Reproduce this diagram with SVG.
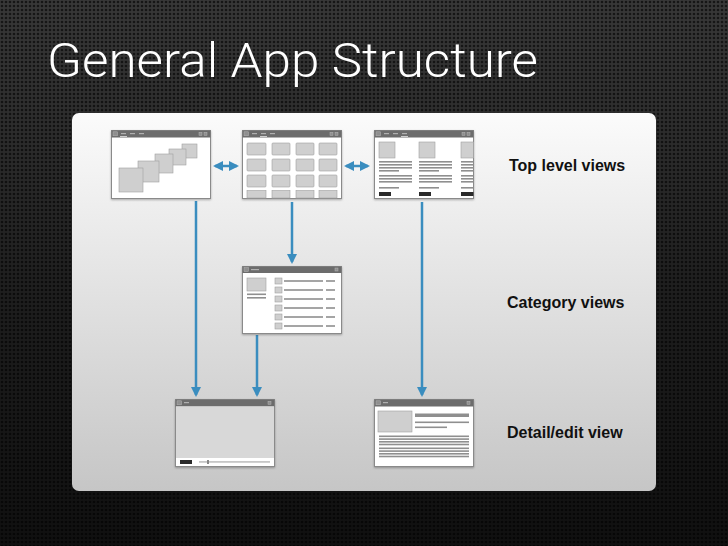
<svg xmlns="http://www.w3.org/2000/svg" width="728" height="546" viewBox="0 0 728 546">
<defs>
<linearGradient id="bg" x1="0" y1="0" x2="0" y2="1">
<stop offset="0" stop-color="#383838"/>
<stop offset="0.55" stop-color="#1e1e1e"/>
<stop offset="1" stop-color="#101010"/>
</linearGradient>
<pattern id="mesh" width="4" height="4" patternUnits="userSpaceOnUse">
<circle cx="2" cy="2" r="1.3" fill="#000" fill-opacity="0.6"/>
</pattern>
<linearGradient id="panel" x1="0" y1="0" x2="0" y2="1">
<stop offset="0" stop-color="#fbfbfb"/>
<stop offset="1" stop-color="#c6c6c6"/>
</linearGradient>
<filter id="sh" x="-10%" y="-10%" width="120%" height="130%">
<feDropShadow dx="0" dy="1" stdDeviation="1" flood-color="#000" flood-opacity="0.3"/>
</filter>
<marker id="ah" viewBox="0 0 10 10" refX="8" refY="5" markerWidth="4" markerHeight="4" orient="auto-start-reverse" markerUnits="strokeWidth">
<path d="M0,0 L10,5 L0,10 z" fill="#3a8dbf"/>
</marker>
</defs>
<style>
.win{fill:#fff;stroke:#8a8a8a;stroke-width:1}
.tb{fill:#6c6c6c}
.ic{fill:#8e8e8e;stroke:#b5b5b5;stroke-width:0.5}
.tab{fill:#b0b0b0}
.act{fill:#e8e8e8}
.bx{fill:#cfcfcf;stroke:#a0a0a0;stroke-width:0.6}
.gl{fill:#8f8f8f}
.dk{fill:#2a2a2a}
.con{fill:none;stroke:#3a8dbf;stroke-width:2.5}
.lbl{font-family:"Liberation Sans",Arial,sans-serif;font-weight:bold;font-size:16px;fill:#111}
</style>
<rect width="728" height="546" fill="url(#bg)"/>
<rect width="728" height="546" fill="url(#mesh)"/>
<text x="47" y="77" font-family="Roboto,'Liberation Sans',Arial,sans-serif" font-weight="300" font-size="48" fill="#fff" textLength="491" lengthAdjust="spacingAndGlyphs">General App Structure</text>
<rect id="panel-bg" x="72" y="113" width="584" height="378" rx="7" fill="url(#panel)"/>

<g id="connectors">
<line class="con" x1="215" y1="166" x2="237" y2="166" marker-start="url(#ah)" marker-end="url(#ah)"/>
<line class="con" x1="346" y1="166" x2="368" y2="166" marker-start="url(#ah)" marker-end="url(#ah)"/>
<line class="con" x1="196" y1="201" x2="196" y2="395" marker-end="url(#ah)"/>
<line class="con" x1="292" y1="202" x2="292" y2="262" marker-end="url(#ah)"/>
<line class="con" x1="422" y1="202" x2="422" y2="395" marker-end="url(#ah)"/>
<line class="con" x1="257" y1="335" x2="257" y2="395" marker-end="url(#ah)"/>
</g>

<g id="top-view-1" filter="url(#sh)">
<rect class="win" x="111.5" y="130.5" width="99" height="68"/>
<rect class="tb" x="111.5" y="130.5" width="99" height="7"/>
<rect class="ic" x="113" y="131.8" width="4.5" height="4"/>
<rect class="tab" x="121" y="133" width="5" height="1.2"/><rect class="act" x="120" y="136" width="7" height="0.8"/>
<rect class="tab" x="130" y="133" width="5" height="1.2"/>
<rect class="tab" x="139" y="133" width="5" height="1.2"/>
<rect class="ic" x="199" y="132.3" width="3" height="3"/><rect class="ic" x="204" y="132.3" width="3" height="3"/>
<rect class="bx" x="182" y="144" width="15" height="14"/>
<rect class="bx" x="169" y="149" width="17" height="16"/>
<rect class="bx" x="155" y="154" width="18" height="19"/>
<rect class="bx" x="138" y="161" width="21" height="21"/>
<rect class="bx" x="119" y="168" width="24" height="24"/>
</g>

<g id="top-view-2" filter="url(#sh)">
<rect class="win" x="242.5" y="130.5" width="99" height="68"/>
<rect class="tb" x="242.5" y="130.5" width="99" height="7"/>
<rect class="ic" x="244" y="131.8" width="4.5" height="4"/>
<rect class="tab" x="252" y="133" width="5" height="1.2"/>
<rect class="tab" x="261" y="133" width="5" height="1.2"/><rect class="act" x="260" y="136" width="7" height="0.8"/>
<rect class="tab" x="270" y="133" width="5" height="1.2"/>
<rect class="ic" x="330" y="132.3" width="3" height="3"/><rect class="ic" x="335" y="132.3" width="3" height="3"/>
<g>
<rect class="bx" x="247" y="143" width="19" height="12" rx="1"/><rect class="bx" x="272" y="143" width="18" height="12" rx="1"/><rect class="bx" x="296" y="143" width="18" height="12" rx="1"/><rect class="bx" x="319" y="143" width="18" height="12" rx="1"/>
<rect class="bx" x="247" y="159" width="19" height="12" rx="1"/><rect class="bx" x="272" y="159" width="18" height="12" rx="1"/><rect class="bx" x="296" y="159" width="18" height="12" rx="1"/><rect class="bx" x="319" y="159" width="18" height="12" rx="1"/>
<rect class="bx" x="247" y="175" width="19" height="12" rx="1"/><rect class="bx" x="272" y="175" width="18" height="12" rx="1"/><rect class="bx" x="296" y="175" width="18" height="12" rx="1"/><rect class="bx" x="319" y="175" width="18" height="12" rx="1"/>
<rect class="bx" x="247" y="190.5" width="19" height="7.5"/><rect class="bx" x="272" y="190.5" width="18" height="7.5"/><rect class="bx" x="296" y="190.5" width="18" height="7.5"/><rect class="bx" x="319" y="190.5" width="18" height="7.5"/>
</g>
</g>

<g id="top-view-3" filter="url(#sh)">
<rect class="win" x="374.5" y="130.5" width="99" height="68"/>
<rect class="tb" x="374.5" y="130.5" width="99" height="7"/>
<rect class="ic" x="376" y="131.8" width="4.5" height="4"/>
<rect class="tab" x="384" y="133" width="5" height="1.2"/>
<rect class="tab" x="393" y="133" width="5" height="1.2"/>
<rect class="tab" x="402" y="133" width="5" height="1.2"/><rect class="act" x="401" y="136" width="7" height="0.8"/>
<rect class="ic" x="462" y="132.3" width="3" height="3"/><rect class="ic" x="467" y="132.3" width="3" height="3"/>
<rect class="bx" x="379" y="142" width="16" height="16"/>
<rect class="bx" x="419" y="142" width="16" height="16"/>
<rect class="bx" x="461" y="142" width="12.5" height="16"/>
<g class="gl">
<rect x="379" y="161" width="33" height="1.6"/><rect x="379" y="164" width="33" height="1.6"/><rect x="379" y="167" width="33" height="1.6"/><rect x="379" y="170" width="20" height="1.6"/>
<rect x="379" y="175" width="33" height="1.6"/><rect x="379" y="178" width="33" height="1.6"/><rect x="379" y="181" width="33" height="1.6"/><rect x="379" y="187" width="20" height="1.6"/>
<rect x="419" y="161" width="33" height="1.6"/><rect x="419" y="164" width="33" height="1.6"/><rect x="419" y="167" width="33" height="1.6"/><rect x="419" y="170" width="20" height="1.6"/>
<rect x="419" y="175" width="33" height="1.6"/><rect x="419" y="178" width="33" height="1.6"/><rect x="419" y="181" width="33" height="1.6"/><rect x="419" y="187" width="20" height="1.6"/>
<rect x="461" y="161" width="12.5" height="1.6"/><rect x="461" y="164" width="12.5" height="1.6"/><rect x="461" y="167" width="12.5" height="1.6"/><rect x="461" y="170" width="12.5" height="1.6"/>
<rect x="461" y="175" width="12.5" height="1.6"/><rect x="461" y="178" width="12.5" height="1.6"/><rect x="461" y="181" width="12.5" height="1.6"/><rect x="461" y="187" width="12.5" height="1.6"/>
</g>
<rect class="dk" x="379" y="192" width="12" height="4"/>
<rect class="dk" x="419" y="192" width="12" height="4"/>
<rect class="dk" x="461" y="192" width="12.5" height="4"/>
</g>

<g id="category-view" filter="url(#sh)">
<rect class="win" x="242.5" y="266.5" width="99" height="67"/>
<rect class="tb" x="242.5" y="266.5" width="99" height="6.5"/>
<rect class="ic" x="244" y="267.6" width="4.5" height="4"/>
<rect class="tab" x="251" y="269" width="8" height="1.2"/>
<rect class="ic" x="335" y="268" width="3" height="3"/>
<rect class="bx" x="247" y="278" width="19" height="13"/>
<rect class="gl" x="247" y="293.5" width="19" height="1.6"/><rect class="gl" x="247" y="297" width="19" height="1.6"/>
<rect class="bx" x="275" y="278" width="7" height="6"/><rect class="bx" x="275" y="287" width="7" height="6"/><rect class="bx" x="275" y="296" width="7" height="6"/><rect class="bx" x="275" y="305" width="7" height="6"/><rect class="bx" x="275" y="314" width="7" height="6"/><rect class="bx" x="275" y="323" width="7" height="6"/>
<g class="gl">
<rect x="284" y="280.2" width="39" height="1.6"/><rect x="284" y="289.2" width="39" height="1.6"/><rect x="284" y="298.2" width="39" height="1.6"/><rect x="284" y="307.2" width="39" height="1.6"/><rect x="284" y="316.2" width="39" height="1.6"/><rect x="284" y="325.2" width="39" height="1.6"/>
<rect x="326" y="280.2" width="9" height="1.6"/><rect x="326" y="289.2" width="9" height="1.6"/><rect x="326" y="298.2" width="9" height="1.6"/><rect x="326" y="307.2" width="9" height="1.6"/><rect x="326" y="316.2" width="9" height="1.6"/><rect x="326" y="325.2" width="9" height="1.6"/>
</g>
</g>

<g id="detail-media" filter="url(#sh)">
<rect class="win" x="175.5" y="399.5" width="99" height="67"/>
<rect class="tb" x="175.5" y="399.5" width="99" height="7"/>
<rect class="ic" x="177" y="400.8" width="4.5" height="4"/>
<rect class="tab" x="184" y="402" width="5" height="1.2"/>
<rect class="ic" x="268" y="401.3" width="3" height="3"/>
<rect x="176" y="406.5" width="98" height="51.5" fill="#d8d8d8"/>
<rect class="dk" x="180" y="460" width="12" height="4"/>
<rect class="gl" x="199" y="461.5" width="71" height="0.9"/>
<rect x="207" y="460" width="2" height="4" fill="#888"/>
</g>

<g id="detail-text" filter="url(#sh)">
<rect class="win" x="374.5" y="399.5" width="99" height="67"/>
<rect class="tb" x="374.5" y="399.5" width="99" height="7"/>
<rect class="ic" x="376" y="400.8" width="4.5" height="4"/>
<rect class="tab" x="383" y="402" width="5" height="1.2"/>
<rect class="ic" x="467" y="401.3" width="3" height="3"/>
<rect class="bx" x="378" y="411" width="34" height="21"/>
<rect class="gl" x="415" y="413.5" width="54" height="3.5"/>
<rect class="gl" x="415" y="421.5" width="54" height="1.6"/>
<rect class="gl" x="415" y="426.5" width="32" height="1.6"/>
<g class="gl">
<rect x="379" y="435.5" width="90" height="1.6"/><rect x="379" y="438.3" width="90" height="1.6"/><rect x="379" y="441" width="90" height="1.6"/><rect x="379" y="443.7" width="90" height="1.6"/>
<rect x="379" y="447.5" width="90" height="1.6"/><rect x="379" y="450.3" width="90" height="1.6"/><rect x="379" y="453" width="90" height="1.6"/><rect x="379" y="455.7" width="90" height="1.6"/>
</g>
</g>

<g id="labels">
<text class="lbl" x="509" y="171">Top level views</text>
<text class="lbl" x="507" y="308">Category views</text>
<text class="lbl" x="507" y="438">Detail/edit view</text>
</g>
</svg>
